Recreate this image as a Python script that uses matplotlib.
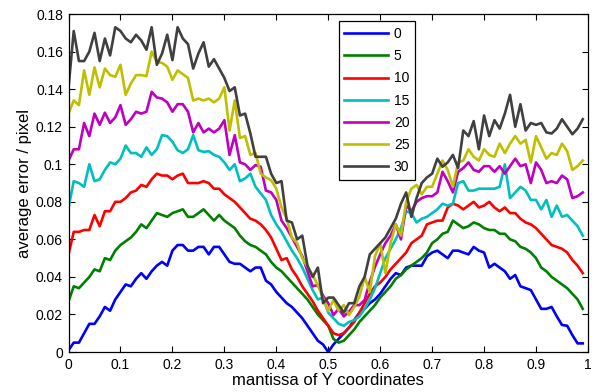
import matplotlib
matplotlib.use("Agg")
import matplotlib.pyplot as plt
from matplotlib.ticker import FuncFormatter
import numpy as np

x = [i / 100 for i in range(100)]
labels = ["0", "5", "10", "15", "20", "25", "30"]
colors = ["#0000ff", "#008000", "#ff0000", "#00bfbf", "#bf00bf", "#bfbf00", "#404040"]

s0 = [0.001, 0.005, 0.005, 0.010, 0.015, 0.015, 0.019, 0.024, 0.022, 0.028,
      0.032, 0.036, 0.035, 0.039, 0.042, 0.039, 0.043, 0.046, 0.048, 0.046,
      0.054, 0.057, 0.057, 0.054, 0.054, 0.056, 0.056, 0.052, 0.056, 0.056,
      0.052, 0.048, 0.047, 0.047, 0.045, 0.043, 0.045, 0.045, 0.038, 0.036,
      0.032, 0.029, 0.026, 0.024, 0.021, 0.018, 0.014, 0.010, 0.006, 0.004,
      0.000, 0.004, 0.007, 0.010, 0.013, 0.017, 0.021, 0.023, 0.026, 0.028,
      0.031, 0.035, 0.039, 0.042, 0.041, 0.045, 0.046, 0.046, 0.046, 0.051,
      0.053, 0.054, 0.052, 0.050, 0.054, 0.054, 0.053, 0.052, 0.056, 0.054,
      0.053, 0.045, 0.047, 0.045, 0.043, 0.039, 0.041, 0.035, 0.034, 0.033,
      0.028, 0.023, 0.023, 0.024, 0.019, 0.0144, 0.014, 0.009, 0.0046, 0.0046]

s5 = [0.027, 0.035, 0.034, 0.037, 0.040, 0.044, 0.043, 0.050, 0.049, 0.054,
      0.057, 0.059, 0.061, 0.064, 0.068, 0.066, 0.070, 0.074, 0.073, 0.072,
      0.074, 0.075, 0.076, 0.072, 0.072, 0.074, 0.076, 0.073, 0.070, 0.073,
      0.070, 0.068, 0.066, 0.062, 0.059, 0.057, 0.056, 0.054, 0.052, 0.048,
      0.045, 0.043, 0.040, 0.037, 0.034, 0.031, 0.028, 0.024, 0.020, 0.017,
      0.014, 0.007, 0.005, 0.006, 0.009, 0.012, 0.016, 0.019, 0.022, 0.025,
      0.029, 0.032, 0.035, 0.039, 0.041, 0.044, 0.046, 0.048, 0.050, 0.053,
      0.058, 0.060, 0.063, 0.064, 0.070, 0.068, 0.066, 0.067, 0.069, 0.068,
      0.066, 0.065, 0.065, 0.063, 0.063, 0.060, 0.059, 0.056, 0.055, 0.053,
      0.050, 0.045, 0.043, 0.040, 0.038, 0.036, 0.034, 0.031, 0.028, 0.023]

s10 = [0.052, 0.064, 0.064, 0.065, 0.065, 0.073, 0.067, 0.075, 0.075, 0.080,
       0.080, 0.082, 0.085, 0.086, 0.089, 0.088, 0.092, 0.095, 0.094, 0.094,
       0.092, 0.094, 0.095, 0.090, 0.090, 0.090, 0.091, 0.090, 0.087, 0.087,
       0.084, 0.082, 0.080, 0.077, 0.074, 0.071, 0.070, 0.068, 0.065, 0.061,
       0.055, 0.049, 0.050, 0.044, 0.040, 0.035, 0.031, 0.027, 0.022, 0.018,
       0.014, 0.010, 0.009, 0.010, 0.013, 0.016, 0.021, 0.026, 0.031, 0.035,
       0.037, 0.040, 0.044, 0.047, 0.050, 0.053, 0.058, 0.060, 0.062, 0.068,
       0.069, 0.070, 0.070, 0.077, 0.079, 0.078, 0.076, 0.078, 0.080, 0.077,
       0.078, 0.080, 0.077, 0.075, 0.077, 0.074, 0.074, 0.071, 0.069, 0.068,
       0.066, 0.063, 0.060, 0.057, 0.056, 0.055, 0.053, 0.049, 0.046, 0.042]

s15 = [0.077, 0.091, 0.090, 0.088, 0.100, 0.091, 0.092, 0.097, 0.101, 0.100,
       0.103, 0.110, 0.106, 0.106, 0.104, 0.109, 0.105, 0.108, 0.1155, 0.115,
       0.112, 0.1075, 0.106, 0.108, 0.1155, 0.1075, 0.1066, 0.107, 0.105, 0.104,
       0.101, 0.097, 0.100, 0.091, 0.0925, 0.095, 0.088, 0.0845, 0.081, 0.073,
       0.068, 0.064, 0.059, 0.054, 0.050, 0.045, 0.039, 0.033, 0.028, 0.029,
       0.021, 0.018, 0.015, 0.014, 0.016, 0.017, 0.019, 0.023, 0.028, 0.034,
       0.042, 0.050, 0.055, 0.060, 0.066, 0.075, 0.074, 0.069, 0.071, 0.072,
       0.074, 0.076, 0.079, 0.078, 0.079, 0.090, 0.091, 0.086, 0.086, 0.087,
       0.087, 0.087, 0.087, 0.088, 0.100, 0.082, 0.085, 0.088, 0.086, 0.081,
       0.081, 0.076, 0.081, 0.072, 0.078, 0.072, 0.073, 0.070, 0.067, 0.062]

s20 = [0.102, 0.108, 0.108, 0.122, 0.115, 0.127, 0.121, 0.1275, 0.122, 0.125,
       0.1315, 0.121, 0.124, 0.128, 0.127, 0.128, 0.1386, 0.1356, 0.135, 0.133,
       0.128, 0.132, 0.132, 0.128, 0.117, 0.122, 0.117, 0.119, 0.117, 0.119,
       0.1235, 0.105, 0.1155, 0.101, 0.100, 0.097, 0.0996, 0.0987, 0.086, 0.085,
       0.081, 0.070, 0.066, 0.061, 0.056, 0.051, 0.043, 0.035, 0.0357, 0.030,
       0.026, 0.0197, 0.023, 0.019, 0.0215, 0.025, 0.025, 0.0277, 0.0375, 0.0454,
       0.052, 0.058, 0.062, 0.068, 0.060, 0.078, 0.075, 0.080, 0.082, 0.083,
       0.083, 0.085, 0.096, 0.091, 0.085, 0.096, 0.098, 0.101, 0.097, 0.096,
       0.099, 0.099, 0.096, 0.099, 0.095, 0.099, 0.103, 0.099, 0.100, 0.090,
       0.101, 0.097, 0.090, 0.091, 0.090, 0.094, 0.092, 0.082, 0.083, 0.085]

s25 = [0.127, 0.134, 0.1315, 0.150, 0.137, 0.1516, 0.141, 0.151, 0.1475, 0.1466,
       0.153, 0.137, 0.143, 0.1475, 0.1475, 0.147, 0.160, 0.1545, 0.154, 0.152,
       0.145, 0.150, 0.148, 0.146, 0.134, 0.135, 0.134, 0.135, 0.133, 0.135,
       0.141, 0.118, 0.134, 0.114, 0.115, 0.105, 0.106, 0.095, 0.093, 0.0915,
       0.087, 0.077, 0.071, 0.061, 0.058, 0.050, 0.0454, 0.041, 0.0357, 0.0286,
       0.022, 0.0277, 0.022, 0.025, 0.0197, 0.024, 0.0295, 0.040, 0.032, 0.051,
       0.058, 0.042, 0.058, 0.068, 0.062, 0.080, 0.087, 0.089, 0.084, 0.088,
       0.088, 0.095, 0.102, 0.097, 0.088, 0.101, 0.102, 0.108, 0.104, 0.102,
       0.108, 0.105, 0.104, 0.111, 0.106, 0.111, 0.115, 0.111, 0.113, 0.101,
       0.115, 0.109, 0.103, 0.106, 0.105, 0.111, 0.107, 0.097, 0.099, 0.102]

s30 = [0.141, 0.171, 0.155, 0.155, 0.160, 0.170, 0.155, 0.167, 0.158, 0.173,
       0.171, 0.167, 0.165, 0.169, 0.166, 0.161, 0.173, 0.153, 0.159, 0.169,
       0.1555, 0.173, 0.167, 0.164, 0.151, 0.159, 0.165, 0.152, 0.156, 0.151,
       0.146, 0.139, 0.141, 0.126, 0.127, 0.1165, 0.104, 0.104, 0.104, 0.095,
       0.090, 0.091, 0.070, 0.069, 0.060, 0.062, 0.046, 0.040, 0.045, 0.026,
       0.029, 0.029, 0.025, 0.021, 0.026, 0.026, 0.035, 0.040, 0.052, 0.055,
       0.058, 0.061, 0.066, 0.071, 0.079, 0.085, 0.072, 0.082, 0.090, 0.093,
       0.095, 0.103, 0.0987, 0.101, 0.105, 0.098, 0.118, 0.115, 0.123, 0.108,
       0.126, 0.115, 0.1235, 0.119, 0.127, 0.137, 0.120, 0.132, 0.118, 0.122,
       0.121, 0.122, 0.117, 0.1164, 0.119, 0.124, 0.120, 0.116, 0.119, 0.124]

series = [s0, s5, s10, s15, s20, s25, s30]

plt.rcParams['font.family'] = ['Liberation Sans', 'DejaVu Sans']

fig = plt.figure(figsize=(5.96, 3.92), dpi=100)
ax = fig.add_axes([0.115, 0.102, 0.8715, 0.862])

for ys, lab, c in zip(series, labels, colors):
    ax.plot(x, ys, color=c, linewidth=1.9, label=lab)

ax.set_xlim(0, 1)
ax.set_ylim(0, 0.18)
ax.set_xticks(np.arange(0, 1.0001, 0.1))
ax.set_yticks(np.arange(0, 0.18001, 0.02))
fmt = FuncFormatter(lambda v, p: ('%g' % round(v, 4)))
ax.xaxis.set_major_formatter(fmt)
ax.yaxis.set_major_formatter(fmt)
ax.tick_params(direction='in', length=4, width=0.8, top=True, right=True,
               labelsize=10, colors='black', pad=4)
for sp in ax.spines.values():
    sp.set_linewidth(0.9)

ax.set_xlabel('mantissa of Y coordinates', fontsize=12, labelpad=1)
ax.set_ylabel('average error / pixel', fontsize=12, labelpad=3)

leg = ax.legend(loc='upper left', bbox_to_anchor=(0.52, 0.979), fontsize=10,
                frameon=True, fancybox=False, framealpha=1, edgecolor='black',
                handlelength=3.1, handletextpad=0.45, labelspacing=0.59,
                borderpad=0.42, borderaxespad=0)
leg.get_frame().set_linewidth(0.9)

fig.savefig('out.png', dpi=100)
